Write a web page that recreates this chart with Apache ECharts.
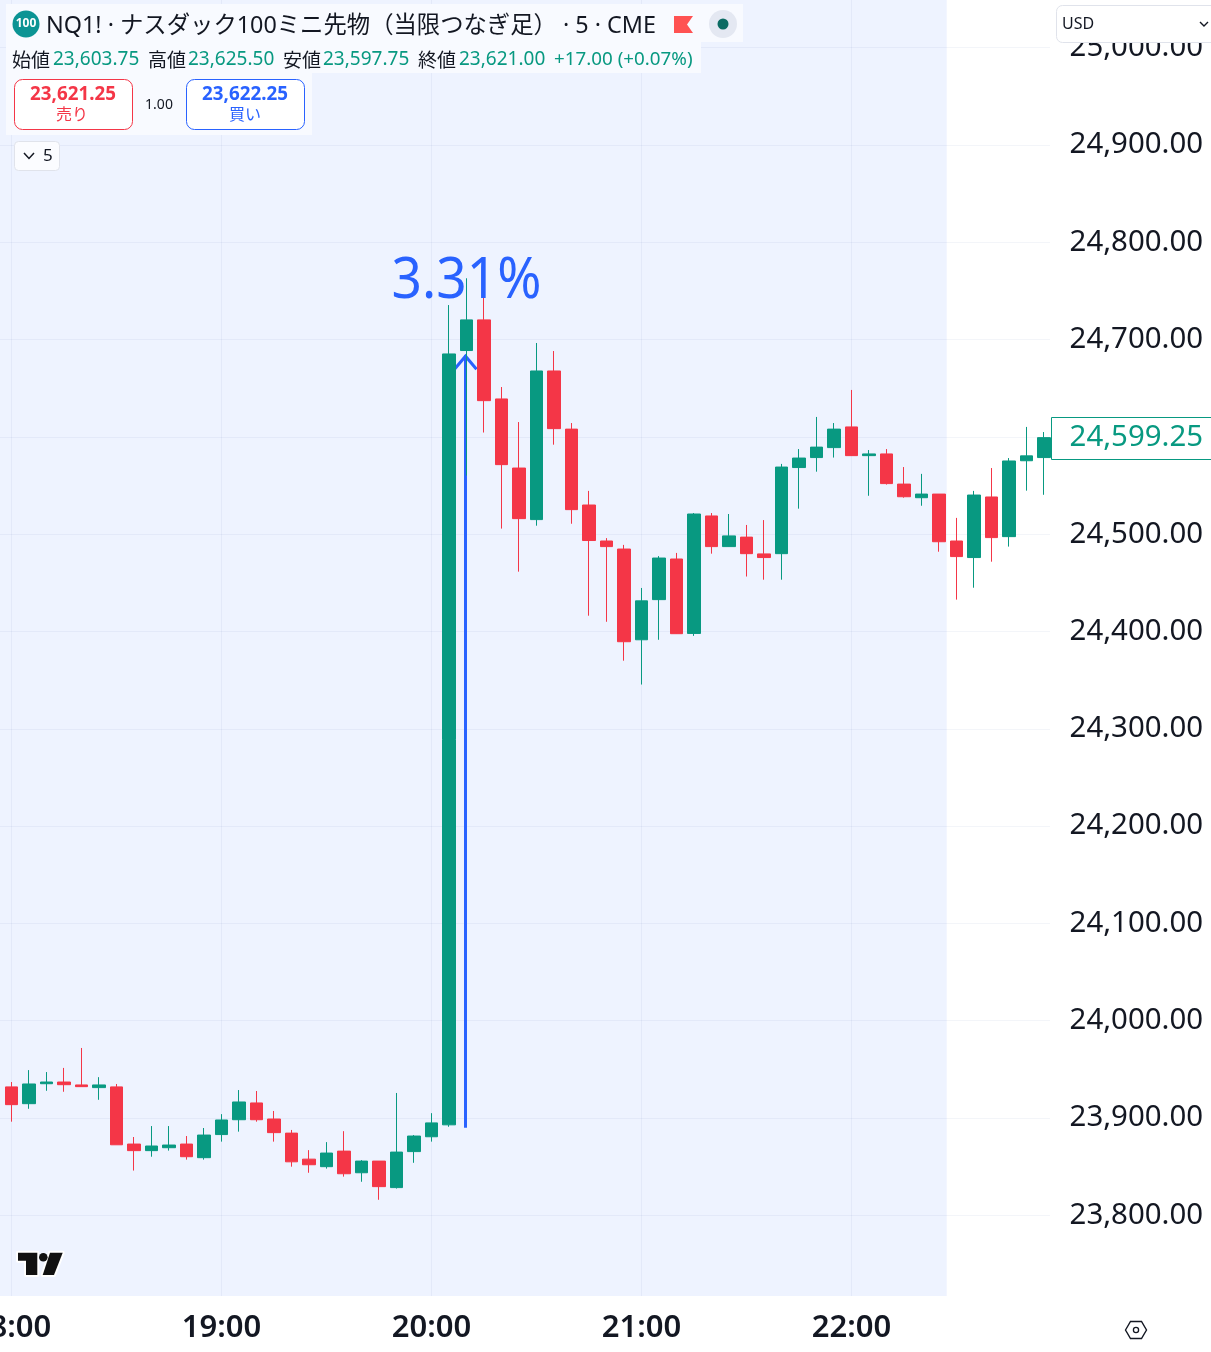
<!DOCTYPE html>
<html><head><meta charset="utf-8">
<style>html,body{margin:0;padding:0;background:#fff}#c{width:1211px;height:1352px}</style>
<script src="https://cdn.jsdelivr.net/npm/echarts@6/dist/echarts.min.js"></script>
</head><body><div id="c"></div>
<script>
const times = ['17:55',
 '18:00','18:05','18:10','18:15','18:20','18:25','18:30','18:35','18:40','18:45','18:50','18:55',
 '19:00','19:05','19:10','19:15','19:20','19:25','19:30','19:35','19:40','19:45','19:50','19:55',
 '20:00','20:05','20:10','20:15','20:20','20:25','20:30','20:35','20:40','20:45','20:50','20:55',
 '21:00','21:05','21:10','21:15','21:20','21:25','21:30','21:35','21:40','21:45','21:50','21:55',
 '22:00','22:05','22:10','22:15','22:20','22:25','22:30','22:35','22:40','22:45','22:50','22:55'];
const opens = ['-',
 23932,23914.75,23935.25,23937,23934,23931.25,23932,23873.25,23866.5,23869.5,23873.25,23859.25,
 23883,23898.25,23915.5,23899,23884.5,23857.75,23850,23866,23843.75,23855.75,23828.5,23865.5,
 23880.75,23893,24688.75,24720.25,24639,24568,24515,24667.75,24608,24530,24493,24484.75,
 24391.5,24432.75,24474.5,24398,24518.75,24487.25,24497,24479.75,24480,24568.5,24578.75,24589,
 24610.25,24580.75,24582.5,24551.5,24537.5,24541.25,24493,24476,24538.25,24497.5,24575.5,24578.75];
const closes = ['-',
 23913.75,23935,23937,23934.25,23932.25,23934,23872.5,23866.5,23871.25,23872.25,23860.25,23882.5,
 23898,23916.5,23898.25,23885,23855,23852,23864,23842.75,23855.75,23829.5,23865,23881.5,
 23895,24685.25,24720.25,24637.25,24571.5,24516,24667.75,24608.5,24525.25,24493.5,24487.25,24389.5,
 24431.5,24475.5,24397.75,24520.75,24487.25,24498.25,24480,24476,24569,24578.25,24589.5,24608,
 24580.75,24582.5,24552,24538.5,24541.25,24492.25,24477,24540.25,24496.5,24575.25,24580.5,24599.25];
const lows = ['-',
 23896.25,23909.5,23928,23927,23932.25,23918.75,23872.5,23846,23860.25,23866.5,23857.25,23857.25,
 23875.75,23886,23896.25,23875.75,23850,23843.75,23848,23839.75,23834.5,23816,23827.5,23854,
 23875.75,23891,24560.25,24604.5,24505.75,24461.5,24508.75,24592,24510.75,24416.25,24410,24370,
 24345.5,24391.5,24397.5,24395.5,24480,24487,24456.5,24453.25,24453.25,24526.25,24564.25,24578.75,
 24580.5,24539.5,24551,24537.5,24529.25,24482,24432.75,24445,24471.75,24487.25,24544.75,24540.5];
const highs = ['-',
 23937,23949.25,23947.25,23951.5,23972,23942,23935,23880.5,23891.75,23891.75,23881.5,23889.75,
 23904,23928.75,23927.75,23907.25,23887.75,23867,23875.25,23886.5,23856.75,23855.75,23925.75,23882.5,
 23905,24735.5,24763,24742.75,24651.25,24615.25,24696.5,24688.25,24614.25,24544.5,24496,24489,
 24444.75,24477.5,24480.75,24521.75,24521.75,24520.75,24509.5,24514.5,24572.25,24587.5,24620.5,24614.25,
 24648.25,24586.5,24587.5,24569,24562,24541.25,24516.75,24544.5,24568,24578.25,24610.25,24605];
const priceTicks = [23800,23900,24000,24100,24200,24300,24400,24500,24600,24700,24800,24900,25000];
const lastPrice = 24599.25;
const lastIndex = 60;
const shadeEndTime = '22:25';
const moveTime = '20:10';
const moveFrom = 23890;
const moveTo = 24684;
const moveLabel = '3.31%';
const quoteTitle = 'NQ1! · ナスダック100ミニ先物（当限つなぎ足） · 5 · CME';
const ohlcLabels = ['始値','高値','安値','終値'];
const ohlcValues = ['23,603.75','23,625.50','23,597.75','23,621.00'];
const changeText = '+17.00 (+0.07%)';

const UP='#089981', DOWN='#F43647', BLUE='#2962FF', INK='#131722';
const JP='"Noto Sans CJK JP","Noto Sans",sans-serif', NUM='"Noto Sans","Noto Sans CJK JP",sans-serif';
const candles = times.map((t,i)=>[opens[i],closes[i],lows[i],highs[i]]);
const fmt = v => v.toLocaleString('en-US',{minimumFractionDigits:2,maximumFractionDigits:2});

function txt(text,x,y,size,fill,extra,z){
  return {type:'text',z:z||100,silent:true,style:Object.assign({text,x,y,fill,fontSize:size,fontFamily:NUM,textAlign:'left',textVerticalAlign:'middle'},extra||{})};
}
function rr(x,y,w,h,r,fill,stroke,z){
  return {type:'rect',z:z||100,silent:true,shape:{x,y,width:w,height:h,r},style:{fill,stroke:stroke||null,lineWidth:stroke?1:0}};
}
function poly(points,style,z){return {type:'polygon',z:z||101,silent:true,shape:{points},style};}
function line(points,stroke,w){return {type:'polyline',z:101,silent:true,shape:{points},style:{stroke,lineWidth:w,fill:null}};}

const panel='#F8FAFF';
const ohlcX=[12,148,283,418], ohlcVX=[53,188,323,459];
const uiElements=[
  rr(6,4,737,38,0,panel), rr(6,42,695,31,0,panel), rr(6,73,306,62,0,panel),
  {type:'circle',z:101,silent:true,shape:{cx:26,cy:24,r:13.5},style:{fill:'#0C9494'}},
  txt('100',26,24,12,'#fff',{textAlign:'center',fontWeight:700},103),
  txt(quoteTitle,46,26,23.35,INK,null,101),
  poly([[674,16],[693,16],[687,24.5],[693,33],[674,33]],{fill:'#FF5252'}),
  {type:'circle',z:101,silent:true,shape:{cx:723,cy:24,r:14},style:{fill:'#E4E8F2'}},
  {type:'circle',z:102,silent:true,shape:{cx:723,cy:24,r:5.5},style:{fill:'#0B6B63'}},
  rr(14.5,79.5,118,50,8,'#fff',DOWN), rr(186.5,79.5,118,50,8,'#fff',BLUE),
  txt('23,621.25',73,95,18.8,DOWN,{textAlign:'center',fontWeight:700},101),
  txt('売り',72,114,16,DOWN,{textAlign:'center',fontFamily:JP},101),
  txt('1.00',159,105,14,INK,{textAlign:'center'},101),
  txt('23,622.25',245,95,18.8,BLUE,{textAlign:'center',fontWeight:700},101),
  txt('買い',245,114,16,BLUE,{textAlign:'center',fontFamily:JP},101),
  rr(14.5,141.5,45,29,4,'#FBFCFF','#E0E3EB'),
  line([[24,153],[29,158.5],[34,153]],INK,1.5),
  txt('5',43,156,17,INK,null,101),
  rr(1056.5,5.5,170,37,6,'#fff','#E0E3EB'),
  txt('USD',1062,24.5,16,INK,null,101),
  line([[1200,22],[1204,26],[1208,22]],INK,1.4),
  rr(1050,0,3,1296,0,'#fff',null,1),
  poly([[18,1252.7],[37.3,1252.7],[37.3,1275],[26,1275],[26,1260.7],[18,1260.7]],{fill:'#fff',stroke:'#fff',lineWidth:4,lineJoin:'round'}),
  poly([[50,1252.7],[62.7,1252.7],[54,1275],[42.7,1275]],{fill:'#fff',stroke:'#fff',lineWidth:4,lineJoin:'round'}),
  poly([[18,1252.7],[37.3,1252.7],[37.3,1275],[26,1275],[26,1260.7],[18,1260.7]],{fill:'#111'},102),
  poly([[50,1252.7],[62.7,1252.7],[54,1275],[42.7,1275]],{fill:'#111'},102),
  {type:'circle',z:102,silent:true,shape:{cx:43.3,cy:1257.3,r:4.3},style:{fill:'#111'}},
  poly([[1125.5,1330],[1130.5,1321.5],[1141.5,1321.5],[1146.5,1330],[1141.5,1338.5],[1130.5,1338.5]],{fill:null,stroke:INK,lineWidth:1.4}),
  {type:'circle',z:101,silent:true,shape:{cx:1136,cy:1330,r:2.6},style:{fill:null,stroke:INK,lineWidth:1.3}}
];
ohlcLabels.forEach((l,i)=>{
  uiElements.push(txt(l,ohlcX[i],60,19,INK,{fontFamily:JP},101));
  uiElements.push(txt(ohlcValues[i],ohlcVX[i],59.5,19,UP,null,101));
});
uiElements.push(txt(changeText,554,59.5,18.8,UP,null,101));

const chart=echarts.init(document.getElementById('c'),null,{renderer:'canvas',width:1211,height:1352});
chart.setOption({
  animation:false,
  backgroundColor:'#fff',
  grid:{left:-14.75,top:0,width:1067.5,height:1296,containLabel:false,outerBoundsMode:'none'},
  xAxis:{type:'category',data:times,boundaryGap:true,
    axisLine:{show:false},axisTick:{show:false,alignWithLabel:true,interval:(i,v)=>v.endsWith(':00')},
    splitLine:{show:true,alignWithLabel:true,interval:(i,v)=>v.endsWith(':00'),lineStyle:{color:'rgba(50,80,160,0.06)',width:1}},
    axisLabel:{interval:(i,v)=>v.endsWith(':00'),margin:17,fontFamily:NUM,fontSize:31,fontWeight:600,color:INK,lineHeight:30,hideOverlap:false}
  },
  yAxis:{type:'value',position:'right',min:23717.1,max:25049,scale:true,
    axisLine:{show:false},axisTick:{show:false,customValues:priceTicks},
    splitLine:{show:true,lineStyle:{color:'rgba(50,80,160,0.06)',width:1}},
    axisLabel:{customValues:priceTicks,formatter:v=>fmt(v),align:'right',margin:150.25,fontFamily:NUM,fontSize:29.4,color:INK,padding:[0,0,7,0]}
  },
  series:[
    {type:'custom',name:'shade',z:-1,silent:true,data:[[shadeEndTime,lastPrice]],encode:{x:0,y:1},
      renderItem(p,api){
        const c=api.coord([api.value(0),api.value(1)]), band=api.size([1,0])[0], s=p.coordSys;
        return {type:'rect',shape:{x:0,y:s.y,width:c[0]+band*0.44,height:s.height},style:{fill:'#EEF3FF'}};
      }},
    {type:'custom',name:'move',z:1,silent:true,data:[[moveTime,moveFrom,moveTo]],encode:{x:0,y:[1,2]},
      renderItem(p,api){
        const a=api.coord([api.value(0),api.value(1)]), b=api.coord([api.value(0),api.value(2)]);
        const x=a[0]-1;
        return {type:'group',children:[
          {type:'line',shape:{x1:x,y1:a[1],x2:x,y2:b[1]},style:{stroke:BLUE,lineWidth:3}},
          {type:'polyline',shape:{points:[[x-11,b[1]+14],[x,b[1]+1],[x+11,b[1]+14]]},style:{stroke:BLUE,lineWidth:3,fill:null}},
          {type:'text',x:x+1,y:b[1]-73,scaleX:0.95,style:{text:moveLabel,x:0,y:0,fill:BLUE,fontSize:56,fontFamily:NUM,textAlign:'center',textVerticalAlign:'middle'}}
        ]};
      }},
    {type:'candlestick',name:'NQ1!',z:2,data:candles,barWidth:13,
      itemStyle:{color:UP,color0:DOWN,borderColor:UP,borderColor0:DOWN,borderWidth:1}},
    {type:'custom',name:'last',z:5,silent:true,data:[[times[lastIndex],lastPrice]],encode:{x:0,y:1},
      renderItem(p,api){
        const c=api.coord([api.value(0),api.value(1)]);
        const y=Math.round(c[1])+0.5;
        return {type:'group',children:[
          {type:'rect',shape:{x:1051.5,y:y-21,width:200,height:42},style:{fill:'#fff',stroke:UP,lineWidth:1}},
          {type:'text',style:{text:fmt(lastPrice),x:1203,y:y-1,fill:UP,fontSize:29.4,fontFamily:NUM,textAlign:'right',textVerticalAlign:'middle'}}
        ]};
      }}
  ],
  graphic:{elements:uiElements}
});
</script></body></html>
